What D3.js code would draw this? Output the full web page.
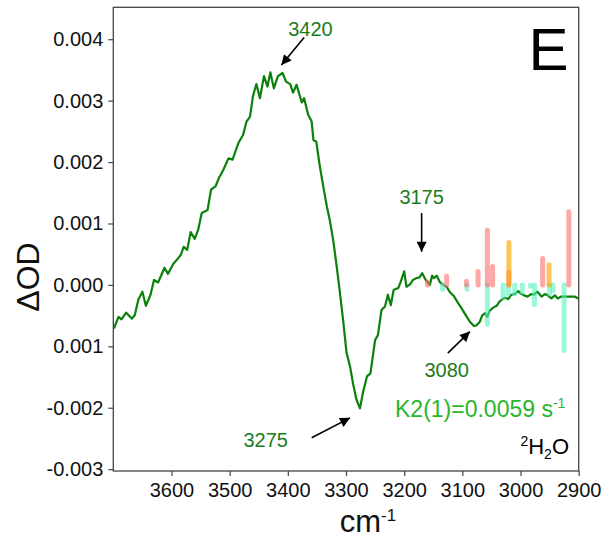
<!DOCTYPE html>
<html><head><meta charset="utf-8">
<script src="https://cdn.jsdelivr.net/npm/d3@7/dist/d3.min.js"></script>
<style>
html,body{margin:0;padding:0;background:#fff;}
svg text{font-family:"Liberation Sans",Arial,Helvetica,sans-serif;}
</style></head>
<body><svg id="c" width="603" height="539"></svg>
<script>
// ---- data (ΔOD values in units of 10^-3) ----
const wavenumber = [3699,3691,3686,3678,3668,3663,3657,3650,3644,3636,3630,3623,3612,3606,3597,3588,3584,3579,3573,3567,3560,3554,3548,3538,3532,3524,3518,3511,3502,3495,3485,3477,3471,3465,3460,3454,3448,3441,3435,3430,3424,3417,3409,3403,3396,3391,3385,3376,3372,3365,3359,3356,3351,3345,3339,3333,3328,3322,3316,3311,3305,3299,3293,3288,3282,3276,3271,3264,3258,3250,3245,3239,3233,3228,3223,3218,3210,3206,3200,3196,3190,3185,3179,3174,3169,3163,3156,3152,3149,3144,3139,3133,3127,3122,3114,3107,3102,3095,3087,3080,3076,3070,3066,3061,3057,3053,3047,3041,3036,3032,3027,3021,3016,3010,3004,3000,2994,2988,2982,2977,2971,2964,2958,2953,2947,2941,2936,2930,2924,2918,2913,2907,2901];
const dOD = [-0.71,-0.52,-0.56,-0.45,-0.55,-0.49,-0.24,-0.11,-0.34,-0.16,0.08,0.04,0.28,0.18,0.34,0.44,0.49,0.62,0.57,0.86,0.75,0.90,1.17,1.22,1.55,1.61,1.75,1.87,2.06,2.04,2.31,2.44,2.66,2.74,3.07,3.27,3.04,3.40,3.23,3.46,3.20,3.40,3.45,3.31,3.27,3.13,3.26,2.97,3.04,2.77,2.66,2.36,2.33,1.93,1.60,1.28,1.06,0.73,0.30,-0.08,-0.57,-1.11,-1.33,-1.60,-1.87,-2.01,-1.76,-1.49,-1.44,-0.90,-0.81,-0.41,-0.35,-0.16,-0.33,-0.08,-0.05,0.05,0.22,-0.03,0.01,0.08,0.11,0.12,0.19,0.08,0.00,0.15,0.11,0.15,0.05,0.00,-0.03,-0.11,-0.19,-0.30,-0.37,-0.48,-0.60,-0.67,-0.66,-0.60,-0.50,-0.46,-0.52,-0.42,-0.37,-0.34,-0.27,-0.24,-0.21,-0.23,-0.16,-0.15,-0.10,-0.14,-0.17,-0.19,-0.15,-0.16,-0.11,-0.19,-0.15,-0.17,-0.22,-0.17,-0.22,-0.19,-0.19,-0.19,-0.19,-0.19,-0.22];

const redPos = [3160,3127,3093,3073,3057,3048,3020,2962,2917];
const redVal = [0.05,0.14,0.06,0.22,0.89,0.30,0.20,0.43,1.19];
const orangePos = [3020,2951];
const orangeVal = [0.69,0.33];
const cyanPos = [3134,3092,3057,3030,3021,3010,2997,2983,2976,2950,2944,2925];
const cyanVal = [-0.07,-0.07,-0.64,-0.20,-0.15,-0.15,-0.12,-0.02,-0.32,-0.15,-0.09,-1.07];

const xTicks = [3600,3500,3400,3300,3200,3100,3000,2900];
const yTicks = [4,3,2,1,0,-1,-2,-3];
const yTickLabels = ["0.004","0.003","0.002","0.001","0.000","0.001","-0.002","-0.003"];

const peakLabels = ["3420","3175","3080","3275"];
const peakTextPos = [[3361,4.05],[3170,1.32],[3127,-1.50],[3438,-2.64]];
const peakArrowFrom = [[3372,4.03],[3170,1.17],[3125,-1.11],[3359,-2.49]];
const peakArrowTo = [[3411,3.58],[3170,0.54],[3087,-0.76],[3293,-2.165]];

// ---- layout ----
const L=113.3, R=578.7, T=7.3, B=471;
const svg = d3.select("#c");
const x = d3.scaleLinear().domain([3700,2900]).range([L,R]);
const y = d3.scaleLinear().domain([-3.03,4.52]).range([B,T]);
const fontF = '"Liberation Sans",Arial,Helvetica,sans-serif';

svg.append("defs").append("marker")
  .attr("id","ah").attr("viewBox","0 0 10 10").attr("refX",10).attr("refY",5)
  .attr("markerWidth",11).attr("markerHeight",10).attr("markerUnits","userSpaceOnUse")
  .attr("orient","auto")
  .append("path").attr("d","M0,0 L10,5 L0,10 Z").attr("fill","#000");

// curve
const line = d3.line().x((d,i)=>x(wavenumber[i])).y(d=>y(d));
svg.append("path").datum(dOD).attr("d",line)
  .attr("fill","none").attr("stroke","#0b800b").attr("stroke-width",2.2).attr("stroke-linejoin","round");

// bars
function bars(pos,val,color,op){
  svg.append("g").selectAll("line").data(pos).join("line")
    .attr("x1",d=>x(d)).attr("x2",d=>x(d))
    .attr("y1",y(0)).attr("y2",(d,i)=>y(val[i]))
    .attr("stroke",color).attr("stroke-width",5).attr("stroke-linecap","round")
    .attr("stroke-opacity",op);
}
bars(cyanPos,cyanVal,"#5af0be",0.6);
bars(redPos,redVal,"#ff6a6a",0.6);
bars(orangePos,orangeVal,"#ffa500",0.65);

// frame
svg.append("rect").attr("x",L).attr("y",T).attr("width",R-L).attr("height",B-T)
  .attr("fill","none").attr("stroke","#444").attr("stroke-width",1.3);

// axes
const xAxis = svg.append("g").attr("transform",`translate(0,${B})`)
  .call(d3.axisBottom(x).tickValues(xTicks).tickFormat(d3.format("d")).tickSize(5).tickPadding(7));
const yAxis = svg.append("g").attr("transform",`translate(${L},0)`)
  .call(d3.axisLeft(y).tickValues(yTicks).tickFormat((d,i)=>yTickLabels[i]).tickSize(5).tickPadding(5));
[xAxis,yAxis].forEach(a=>{
  a.select(".domain").remove();
  a.selectAll(".tick line").attr("stroke","#444").attr("stroke-width",1.2);
  a.selectAll(".tick text").attr("font-size",20).attr("fill","#111").attr("font-family",fontF);
});

// axis titles
svg.append("text").attr("transform","translate(38.5,277) rotate(-90)")
  .attr("text-anchor","middle").attr("font-size",32).attr("fill","#111").text("ΔOD");
const xt = svg.append("text").attr("x",368).attr("y",531.5).attr("text-anchor","middle")
  .attr("font-size",31).attr("fill","#111");
xt.append("tspan").text("cm");
xt.append("tspan").attr("font-size",17).attr("dy",-11).text("-1");

// panel letter
svg.append("text").attr("x",568.5).attr("y",70).attr("text-anchor","end")
  .attr("font-size",60).attr("fill","#000").text("E");

// rate label
const k = svg.append("text").attr("x",395).attr("y",417).attr("font-size",23).attr("fill","#2ab52a");
k.append("tspan").text("K2(1)=0.0059 s");
k.append("tspan").attr("font-size",14).attr("dy",-9).text("-1");

// solvent label
const h = svg.append("text").attr("x",569).attr("y",454).attr("text-anchor","end").attr("font-size",22).attr("fill","#000");
h.append("tspan").attr("font-size",14).attr("dy",-8).text("2");
h.append("tspan").attr("dy",8).text("H");
h.append("tspan").attr("font-size",14).attr("dy",5).text("2");
h.append("tspan").attr("dy",-5).text("O");

// peak annotations
peakLabels.forEach((lab,i)=>{
  svg.append("text").attr("x",x(peakTextPos[i][0])).attr("y",y(peakTextPos[i][1]))
    .attr("text-anchor","middle").attr("font-size",20).attr("fill","#1a7d1a").text(lab);
  svg.append("line")
    .attr("x1",x(peakArrowFrom[i][0])).attr("y1",y(peakArrowFrom[i][1]))
    .attr("x2",x(peakArrowTo[i][0])).attr("y2",y(peakArrowTo[i][1]))
    .attr("stroke","#000").attr("stroke-width",1.6).attr("marker-end","url(#ah)");
});
</script></body></html>
